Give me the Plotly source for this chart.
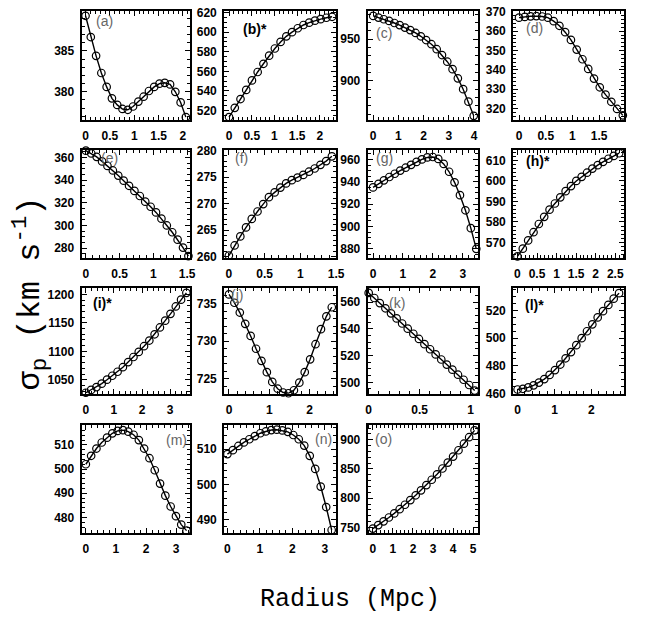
import plotly.graph_objects as go

W, H = 646, 626

# ---------------- data (radius in Mpc, sigma_p in km/s) ----------------
labels = ["(a)", "(b)*", "(c)", "(d)", "(e)", "(f)", "(g)", "(h)*",
          "(i)*", "(j)", "(k)", "(l)*", "(m)", "(n)", "(o)"]

r_a = [0, 0.108, 0.217, 0.325, 0.434, 0.542, 0.651, 0.759, 0.868, 0.976, 1.085, 1.193, 1.302, 1.41, 1.519, 1.627, 1.736, 1.844, 1.953, 2.06]
s_a = [389.3, 386.7, 384.4, 382.3, 380.6, 379.2, 378.4, 377.9, 377.8, 378.2, 378.8, 379.4, 380.1, 380.6, 381.0, 381.1, 380.9, 380.0, 378.7, 376.9]

r_b = [0, 0.126, 0.252, 0.378, 0.504, 0.63, 0.757, 0.883, 1.009, 1.135, 1.261, 1.387, 1.513, 1.639, 1.765, 1.892, 2.018, 2.144, 2.27]
s_b = [513.3, 522.7, 531.7, 541, 550.7, 559.3, 567.7, 576, 583.3, 590, 595.7, 600, 604, 607.3, 609.7, 611.7, 613.3, 614.7, 615.7]

r_c = [0, 0.21, 0.42, 0.63, 0.84, 1.05, 1.26, 1.47, 1.68, 1.89, 2.1, 2.31, 2.52, 2.73, 2.94, 3.15, 3.36, 3.57, 3.78, 3.99]
s_c = [978, 976, 974, 972, 969.5, 967, 964, 961, 957.5, 953.5, 949, 944, 938, 931, 923, 914, 903, 890, 875, 858]

r_d = [0, 0.108, 0.216, 0.324, 0.432, 0.54, 0.648, 0.756, 0.864, 0.972, 1.08, 1.188, 1.296, 1.404, 1.512, 1.62, 1.728, 1.836, 1.944]
s_d = [367, 367.4, 367.7, 367.8, 367.6, 367, 365.2, 362.8, 359.5, 355.5, 350.5, 345.5, 340.5, 335.5, 331, 327.2, 323.5, 319.8, 316.5]

r_e = [0, 0.08, 0.16, 0.24, 0.32, 0.40, 0.48, 0.56, 0.64, 0.72, 0.80, 0.88, 0.96, 1.04, 1.12, 1.20, 1.28, 1.36, 1.44, 1.52]
s_e = [366, 363.5, 360.5, 356.5, 352.5, 348.5, 344, 339.5, 335, 330.5, 326, 321, 316.5, 311.5, 306, 300, 294, 287.5, 280.5, 273]

r_f = [0, 0.08, 0.16, 0.24, 0.32, 0.40, 0.48, 0.56, 0.64, 0.72, 0.80, 0.88, 0.96, 1.04, 1.12, 1.20, 1.28, 1.36, 1.44]
s_f = [260.2, 262.1, 263.8, 265.5, 267.1, 268.5, 269.9, 271.2, 272.1, 273.0, 273.8, 274.4, 274.9, 275.4, 276.0, 276.6, 277.3, 278.0, 278.9]

r_g = [0, 0.182, 0.363, 0.545, 0.726, 0.908, 1.089, 1.271, 1.453, 1.634, 1.816, 1.997, 2.179, 2.36, 2.542, 2.724, 2.905, 3.087, 3.268, 3.45]
s_g = [935, 938.2, 941.3, 944.3, 947.2, 950, 952.6, 955.2, 957.8, 960, 961.8, 962.2, 960.5, 956, 949, 939.5, 928, 914.5, 898.5, 880]

r_h = [0, 0.137, 0.274, 0.411, 0.547, 0.684, 0.821, 0.958, 1.095, 1.232, 1.368, 1.505, 1.642, 1.779, 1.916, 2.053, 2.189, 2.326, 2.463, 2.6]
s_h = [563.2, 567, 571, 575, 579, 582.5, 586, 589, 592, 595, 597.5, 600, 602, 604, 606, 607.7, 609.3, 610.8, 612.2, 613.5]

r_i = [0, 0.188, 0.377, 0.565, 0.754, 0.942, 1.13, 1.319, 1.507, 1.696, 1.884, 2.072, 2.261, 2.449, 2.638, 2.826, 3.014, 3.203, 3.391, 3.58]
s_i = [1027, 1032, 1037, 1043, 1050, 1057, 1064, 1072, 1081, 1090, 1099, 1109, 1119, 1130, 1142, 1154, 1166, 1179, 1191, 1203]

r_j = [0, 0.134, 0.268, 0.403, 0.537, 0.671, 0.805, 0.939, 1.074, 1.208, 1.342, 1.476, 1.611, 1.745, 1.879, 2.013, 2.147, 2.282, 2.416, 2.55]
s_j = [736.2, 735.1, 733.8, 732.3, 730.7, 729.0, 727.4, 725.9, 724.6, 723.7, 723.2, 723.1, 723.5, 724.5, 725.9, 727.6, 729.6, 731.6, 733.3, 734.5]

r_k = [0, 0.055, 0.109, 0.164, 0.219, 0.274, 0.328, 0.383, 0.438, 0.493, 0.547, 0.602, 0.657, 0.712, 0.766, 0.821, 0.876, 0.931, 0.985, 1.04]
s_k = [567.0, 563.2, 559.4, 555.5, 551.7, 547.9, 544.1, 540.2, 536.4, 532.5, 528.6, 524.8, 520.9, 517.1, 513.3, 509.5, 505.7, 501.9, 498.0, 493.8]

r_l = [0, 0.145, 0.289, 0.434, 0.579, 0.724, 0.868, 1.013, 1.158, 1.302, 1.447, 1.592, 1.737, 1.881, 2.026, 2.171, 2.316, 2.46, 2.605, 2.75]
s_l = [463, 463.5, 464.5, 466, 468, 470.5, 473.5, 477, 481, 485.5, 490, 495, 500, 505, 510, 515, 519.5, 524, 528.5, 532.5]

r_m = [0, 0.176, 0.352, 0.528, 0.704, 0.88, 1.056, 1.232, 1.408, 1.584, 1.76, 1.936, 2.112, 2.288, 2.464, 2.64, 2.816, 2.992, 3.168, 3.344]
s_m = [502, 505.5, 508.5, 511, 513, 514.8, 515.8, 516.1, 515.5, 514.2, 512, 508.5, 504.5, 499.5, 494, 489, 484.5, 480.5, 477, 474.5]

r_n = [0, 0.169, 0.338, 0.507, 0.676, 0.845, 1.014, 1.183, 1.352, 1.521, 1.69, 1.859, 2.028, 2.197, 2.366, 2.535, 2.704, 2.873, 3.042, 3.21]
s_n = [508.6, 509.7, 510.9, 511.9, 512.8, 513.7, 514.5, 515.0, 515.4, 515.5, 515.3, 514.9, 514.0, 512.8, 511.0, 508.1, 504.4, 499.4, 493.6, 487.1]

r_o = [0, 0.267, 0.534, 0.8, 1.067, 1.334, 1.6, 1.868, 2.135, 2.4, 2.668, 2.935, 3.2, 3.47, 3.736, 4.0, 4.27, 4.54, 4.8, 5.07]
s_o = [748, 754, 760.4, 767, 774, 781.2, 788.8, 796.8, 805, 813.5, 822.4, 831.6, 840.9, 850.8, 860.9, 871.2, 882, 893.2, 904.3, 916]

radii = [r_a, r_b, r_c, r_d, r_e, r_f, r_g, r_h, r_i, r_j, r_k, r_l, r_m, r_n, r_o]
sigmas = [s_a, s_b, s_c, s_d, s_e, s_f, s_g, s_h, s_i, s_j, s_k, s_l, s_m, s_n, s_o]

# axis ranges per panel
x_ranges = [[-0.08, 2.14], [-0.108, 2.36], [-0.22, 4.15], [-0.11, 1.97],
            [-0.063, 1.54], [-0.066, 1.5005], [-0.18, 3.5], [-0.11, 2.73],
            [-0.15, 3.7], [-0.12, 2.66], [-0.01, 1.07], [-0.12, 2.89],
            [-0.14, 3.45], [-0.1, 3.35], [-0.26, 5.23]]
y_ranges = [[376.6, 389.9], [510.7, 621.7], [853.5, 984], [314.3, 370.5],
            [271.6, 366.6], [259.8, 280.1], [872.1, 968.5], [562.6, 615.1],
            [1025.2, 1211.5], [723.03, 737.05], [491.4, 570.7], [459.9, 536.2],
            [473.6, 518.2], [486.3, 516.8], [740.8, 925]]
# (major, minor) tick spacing
x_ticks = [(0.5, 0.1), (0.5, 0.1), (1, 0.2), (0.5, 0.1),
           (0.5, 0.1), (0.5, 0.1), (1, 0.2), (0.5, 0.1),
           (1, 0.2), (1, 0.2), (0.5, 0.1), (1, 0.2),
           (1, 0.2), (1, 0.2), (1, 0.2)]
y_ticks = [(5, 1), (20, 5), (50, 10), (10, 2),
           (20, 5), (5, 1), (20, 5), (10, 2),
           (50, 10), (5, 1), (20, 5), (20, 5),
           (10, 2), (10, 2), (50, 10)]

# panel frames in pixels
col_px = [(81, 191), (226, 340), (372, 484), (520, 633)]
row_px = [(5, 116), (147, 257), (288, 396), (428, 538)]
# label centres in pixels
label_px = [(104, 15), (257, 23), (389, 28), (542, 22),
            (109, 155), (244, 155), (389, 155), (545, 158),
            (102, 303), (239, 295), (402, 303), (542, 305),
            (178, 443), (327, 442), (388, 442)]

fig = go.Figure()
layout = dict(
    width=W, height=H, margin=dict(l=0, r=0, t=0, b=0),
    paper_bgcolor="white", plot_bgcolor="white", showlegend=False,
)
annotations = []
tickfont = dict(family="Liberation Sans, Arial, sans-serif", size=12, color="black", weight="bold")

for i in range(15):
    n = i + 1
    row, col = divmod(i, 4)
    x0, x1 = col_px[col]
    y0, y1 = row_px[row]
    xa = "xaxis" if n == 1 else f"xaxis{n}"
    ya = "yaxis" if n == 1 else f"yaxis{n}"
    xr = "x" if n == 1 else f"x{n}"
    yr = "y" if n == 1 else f"y{n}"
    fig.add_trace(go.Scatter(
        x=radii[i], y=sigmas[i], xaxis=xr, yaxis=yr, mode="lines+markers",
        line=dict(color="black", width=1.4),
        marker=dict(symbol="circle-open", size=7.5, color="black", line=dict(width=1.2)),
        cliponaxis=False,
    ))
    common = dict(showline=True, linecolor="black", linewidth=2, mirror="allticks",
                  ticks="inside", ticklen=5, tickwidth=1.3, tickcolor="black",
                  showgrid=False, zeroline=False, tickfont=tickfont, fixedrange=True)
    layout[xa] = dict(common, domain=[x0 / W, x1 / W], anchor=yr, range=x_ranges[i],
                      tick0=0, dtick=x_ticks[i][0],
                      minor=dict(ticks="inside", ticklen=3, tickwidth=1, tickcolor="black",
                                 dtick=x_ticks[i][1], tick0=0, showgrid=False),
                      ticklabelstandoff=4)
    layout[ya] = dict(common, domain=[1 - y1 / H, 1 - y0 / H], anchor=xr, range=y_ranges[i],
                      tick0=0, dtick=y_ticks[i][0],
                      minor=dict(ticks="inside", ticklen=3, tickwidth=1, tickcolor="black",
                                 dtick=y_ticks[i][1], tick0=0, showgrid=False),
                      ticklabelstandoff=3)
    lx, ly = label_px[i]
    star = labels[i].endswith("*")
    annotations.append(dict(
        text=labels[i], x=lx / W, y=1 - ly / H, xref="paper", yref="paper",
        showarrow=False, xanchor="center", yanchor="middle",
        font=dict(family="Liberation Sans, Arial, sans-serif", size=14,
                  color="black" if star else "#666666",
                  weight="bold" if star else "normal"),
    ))

annotations.append(dict(
    text="Radius (Mpc)", x=354 / W, y=1 - 606 / H, xref="paper", yref="paper",
    showarrow=False, xanchor="center", yanchor="middle",
    font=dict(family="Liberation Mono, Courier New, monospace", size=25, color="black"),
))
annotations.append(dict(
    text="σ<sub>p</sub> (km s<sup>-1</sup>)", x=28 / W, y=1 - 294 / H, xref="paper", yref="paper",
    showarrow=False, xanchor="center", yanchor="middle", textangle=-90,
    font=dict(family="Liberation Mono, Courier New, monospace", size=32, color="black"),
))
layout["annotations"] = annotations
fig.update_layout(**layout)
fig.write_html("out.html")
